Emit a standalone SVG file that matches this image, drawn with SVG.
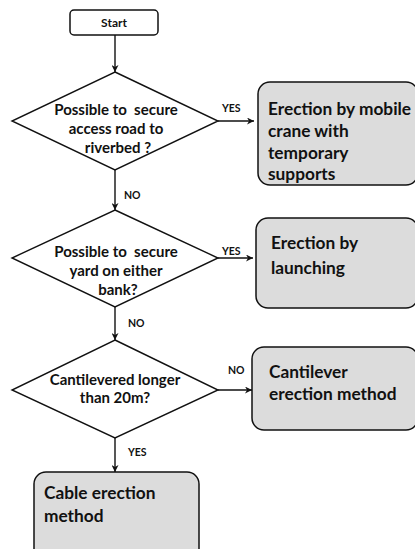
<svg xmlns="http://www.w3.org/2000/svg" width="415" height="549" viewBox="0 0 415 549">
  <defs>
    <marker id="arrow" viewBox="0 0 10 10" refX="10" refY="5" markerWidth="7" markerHeight="7" orient="auto" markerUnits="userSpaceOnUse">
      <path d="M0,0 L10,5 L0,10 L3,5 Z" fill="#111"/>
    </marker>
    <style>
      .edge { stroke: #111; stroke-width: 1.4; fill: none; marker-end: url(#arrow); }
      .decision { fill: #fff; stroke: #111; stroke-width: 1.4; }
      .result { fill: #dcdcdc; stroke: #111; stroke-width: 1.5; }
      .terminal { fill: #fff; stroke: #111; stroke-width: 1.5; }
      text { font-family: Lato, "Open Sans", "Liberation Sans", sans-serif; font-weight: bold; fill: #111; }
      .q { font-size: 15px; text-anchor: middle; white-space: pre; }
      .r { font-size: 17.3px; }
      .lbl { font-size: 10.5px; }
    </style>
  </defs>
  <rect width="415" height="549" fill="#fff"/>

  <g id="connectors">
    <line class="edge" x1="115" y1="35" x2="115" y2="72"/>
    <line class="edge" x1="218" y1="121" x2="254" y2="121"/>
    <line class="edge" x1="115" y1="170" x2="115" y2="210"/>
    <line class="edge" x1="218" y1="258" x2="253" y2="258"/>
    <line class="edge" x1="115" y1="307" x2="115" y2="340"/>
    <line class="edge" x1="218" y1="390" x2="252" y2="390"/>
    <line class="edge" x1="115" y1="438" x2="115" y2="472"/>
    <text class="lbl" x="222" y="112">YES</text>
    <text class="lbl" x="124" y="199">NO</text>
    <text class="lbl" x="222" y="255">YES</text>
    <text class="lbl" x="128" y="327">NO</text>
    <text class="lbl" x="228" y="374">NO</text>
    <text class="lbl" x="128" y="456">YES</text>
  </g>

  <g id="start">
    <rect class="terminal" x="70" y="10" width="88" height="25" rx="4"/>
    <text x="114" y="27" font-size="12" text-anchor="middle">Start</text>
  </g>

  <g id="q-access-road">
    <polygon class="decision" points="115,72 218,121 115,170 12,121"/>
    <text class="q" x="116" y="115">Possible to  secure</text>
    <text class="q" x="116" y="134">access road to</text>
    <text class="q" x="118" y="153">riverbed ?</text>
  </g>

  <g id="mobile-crane">
    <rect class="result" x="258" y="82" width="160" height="103" rx="12"/>
    <text class="r" x="268" y="115">Erection by mobile</text>
    <text class="r" x="268" y="137">crane with</text>
    <text class="r" x="268" y="159">temporary</text>
    <text class="r" x="268" y="180">supports</text>
  </g>

  <g id="q-yard">
    <polygon class="decision" points="115,210 218,258 115,307 12,258"/>
    <text class="q" x="116" y="257">Possible to  secure</text>
    <text class="q" x="116" y="276">yard on either</text>
    <text class="q" x="118" y="295">bank?</text>
  </g>

  <g id="launching">
    <rect class="result" x="256" y="218" width="162" height="90" rx="12"/>
    <text class="r" x="271" y="249">Erection by</text>
    <text class="r" x="271" y="274">launching</text>
  </g>

  <g id="q-cantilever">
    <polygon class="decision" points="115,340 218,390 115,438 12,390"/>
    <text class="q" x="115" y="385">Cantilevered longer</text>
    <text class="q" x="115" y="403">than 20m?</text>
  </g>

  <g id="cantilever-method">
    <rect class="result" x="252" y="347" width="166" height="83" rx="12"/>
    <text class="r" x="269" y="378">Cantilever</text>
    <text class="r" x="269" y="400">erection method</text>
  </g>

  <g id="cable-method">
    <rect class="result" x="34" y="472" width="165" height="90" rx="12"/>
    <text class="r" x="44" y="499">Cable erection</text>
    <text class="r" x="44" y="522">method</text>
  </g>
</svg>
